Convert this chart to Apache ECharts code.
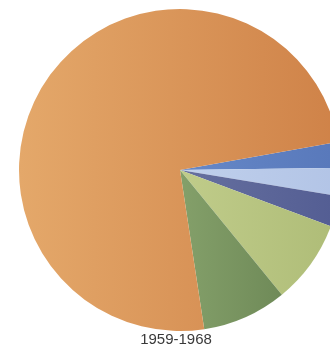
<!DOCTYPE html>
<html>
<head>
<meta charset="utf-8">
<script src="https://cdn.jsdelivr.net/npm/echarts@6/dist/echarts.min.js"></script>
<style>
  html, body { margin: 0; padding: 0; background: #ffffff; }
  #chart { width: 330px; height: 351px; }
</style>
</head>
<body>
<div id="chart"></div>
<script>
// Shares (%) listed clockwise, beginning just above the 3 o'clock position
const categories = ['Group 1', 'Group 2', 'Group 3', 'Group 4', 'Group 5', 'Group 6'];
const shares = [2.6, 2.8, 3.1, 8.4, 8.5, 74.6];
const periodLabel = '1959-1968';

const grad = (a, b) => new echarts.graphic.LinearGradient(0, 0, 1, 0, [
  { offset: 0, color: a }, { offset: 1, color: b }
]);

const colors = [
  grad('#6688c8', '#5878ba'),
  grad('#c0d0ec', '#b2c4e6'),
  grad('#66709f', '#535d93'),
  grad('#c0cc8a', '#afbd78'),
  grad('#84a06a', '#6f8a58'),
  grad('#e4a86a', '#cf8248')
];

const chart = echarts.init(document.getElementById('chart'), null, { renderer: 'canvas' });
chart.setOption({
  animation: false,
  series: [{
    type: 'pie',
    center: [180, 170],
    radius: [0, 161],
    startAngle: 10.1,
    clockwise: true,
    label: { show: false },
    labelLine: { show: false },
    emphasis: { disabled: true },
    itemStyle: { borderWidth: 0 },
    data: categories.map((name, i) => ({
      name,
      value: shares[i],
      itemStyle: { color: colors[i] }
    }))
  }],
  graphic: [{
    type: 'text',
    x: 176,
    y: 340,
    style: {
      text: periodLabel,
      font: '15px "Liberation Sans", Arial, sans-serif',
      fill: '#3a3a3a',
      textAlign: 'center',
      textVerticalAlign: 'middle'
    }
  }]
});
</script>
</body>
</html>
